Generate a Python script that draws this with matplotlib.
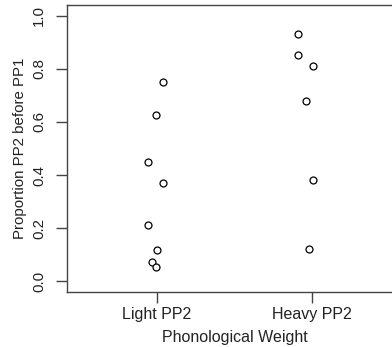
import matplotlib
matplotlib.use("Agg")
import matplotlib.pyplot as plt

plt.rcParams['font.family'] = ['Liberation Sans', 'DejaVu Sans']

categories = ["Light PP2", "Heavy PP2"]
light_vals = [0.752, 0.626, 0.450, 0.370, 0.212, 0.117, 0.073, 0.053]
light_jit = [0.04, -0.006, -0.056, 0.04, -0.056, 0.0, -0.03, -0.006]
heavy_vals = [0.929, 0.853, 0.812, 0.677, 0.381, 0.121]
heavy_jit = [-0.09, -0.09, 0.008, -0.04, 0.006, -0.02]
yticks = [0.0, 0.2, 0.4, 0.6, 0.8, 1.0]

W, H = 392, 347
fig = plt.figure(figsize=(W/100, H/100), dpi=100)
ax = fig.add_axes([67/W, 55/H, (402-67)/W, 287/H])

for i, (vals, jit) in enumerate([(light_vals, light_jit), (heavy_vals, heavy_jit)]):
    xs = [i + 1 + j for j in jit]
    ax.plot(xs, vals, linestyle='none', marker='o', markersize=5.0,
            markerfacecolor='white', markeredgecolor='black', markeredgewidth=0.9)

ax.set_xlim(0.42, 2.58)
ax.set_ylim(-0.04, 1.04)
ax.set_xticks([1, 2])
ax.set_xticklabels(categories, fontsize=11.5)
ax.set_yticks(yticks)
ax.set_yticklabels([f"{v:.1f}" for v in yticks], rotation=90, va='center', fontsize=10.8)

for s in ax.spines.values():
    s.set_color('#444444')
    s.set_linewidth(1.0)
ax.tick_params(length=8, width=1.0, color='#444444', labelcolor='#222222')
ax.tick_params(axis='x', pad=3)
ax.tick_params(axis='y', pad=7)

ax.set_xlabel("Phonological Weight", fontsize=11.5, color='#222222', labelpad=5.5)
ax.set_ylabel("Proportion PP2 before PP1", fontsize=10.8, color='#222222', labelpad=4)

fig.savefig("out.png", dpi=100)
